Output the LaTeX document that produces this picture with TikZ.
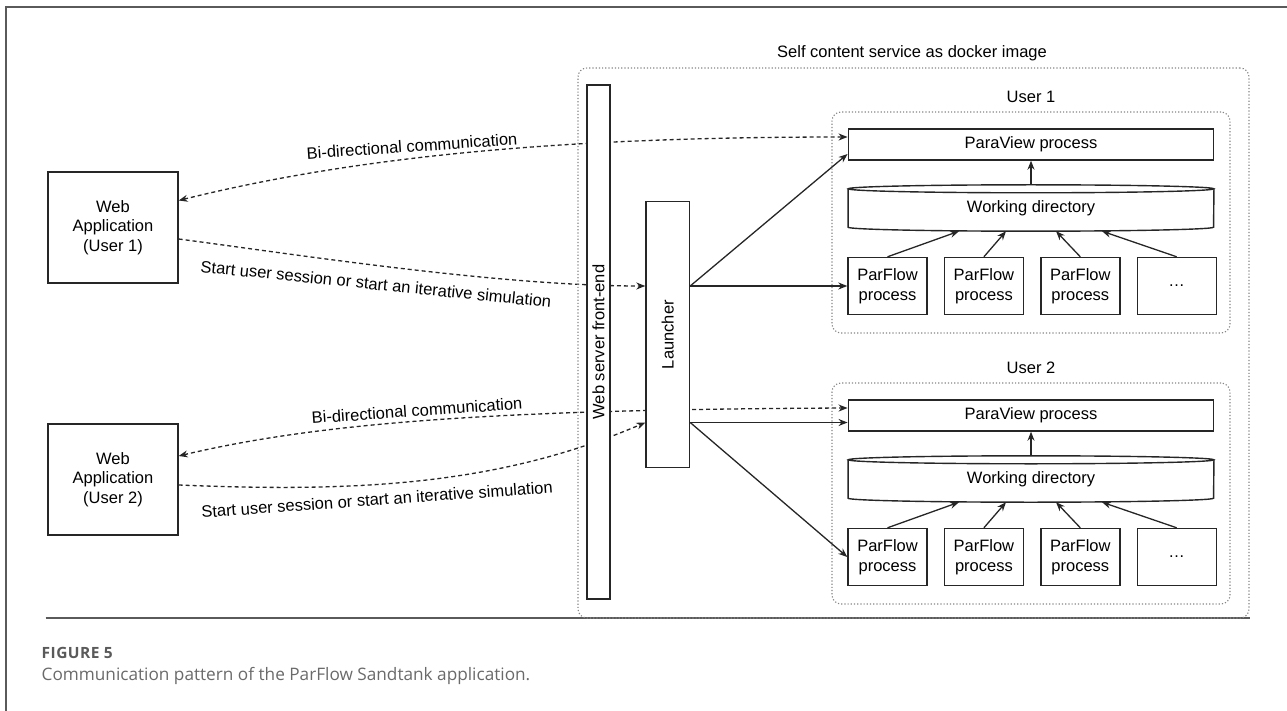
\documentclass[tikz,border=0pt]{standalone}
\usepackage{fontspec}
\setmainfont{Liberation Sans}
\newfontfamily\capfont{Open Sans}
\usepackage{xcolor}
\usepackage{tikz}
\usetikzlibrary{arrows.meta,positioning,backgrounds}
\definecolor{ink}{HTML}{262626}
\definecolor{dotgray}{HTML}{858585}
\definecolor{framegray}{HTML}{5A5A5A}
\definecolor{capgray}{HTML}{6A6A6A}
\newcommand{\diagfont}{\fontsize{16.5}{19.5}\selectfont}
\tikzset{
  box/.style={draw=ink,fill=white,line width=1.4pt,inner sep=2pt,
              align=center,font=\diagfont},
  group/.style={draw=dotgray,line width=1.1pt,dash pattern=on 1.2pt off 2pt,
                rounded corners=9pt},
  plain/.style={font=\diagfont,inner sep=1pt},
  dasharrow/.style={-{Stealth[length=9pt,width=7pt]},line width=1.3pt,ink,
                    dash pattern=on 4pt off 3pt},
  bidir/.style={{Stealth[length=9pt,width=7pt]}-{Stealth[length=9pt,width=7pt]},
                line width=1.3pt,ink,dash pattern=on 4pt off 3pt},
  solidarrow/.style={-{Stealth[length=9pt,width=7pt]},line width=1.3pt,ink},
}
\begin{document}
\begin{tikzpicture}[x=1pt,y=-1pt]
  \useasboundingbox (0,0) rectangle (1287,711);
  % page frame and rule
  \draw[framegray,line width=1.6pt] (6,711) -- (6,7) -- (1287,7);
  \draw[framegray,line width=1.4pt] (45.5,618) -- (1250,618);

  \node[group,minimum width=671pt,minimum height=550pt] (docker) at (913.5,343) {};
  \node[plain] (dockertitle) at (912,53) {Self content service as docker image};

  \node[box,minimum width=130pt,minimum height=111pt] (app1) at (113,227.5)
    {Web\\Application\\(User 1)};
  \node[box,minimum width=130pt,minimum height=111pt] (app2) at (113,479.5)
    {Web\\Application\\(User 2)};
  \node[box,minimum width=23pt,minimum height=514pt] (web) at (598.5,342)
    {\rotatebox{90}{Web server front-end}};
  \node[box,minimum width=43.5pt,minimum height=266pt] (launch) at (667.75,334.6)
    {\rotatebox{90}{Launcher}};

  % one block per user session
  \foreach \u/\dy in {1/0,2/271}{
    \node[plain] (user\u) at (1031,97+\dy) {User \u};
    \node[group,minimum width=398pt,minimum height=221pt] (grp\u) at (1031,222.5+\dy) {};
    \node[box,minimum width=365.5pt,minimum height=31pt] (pv\u) at (1031,144.5+\dy)
      {ParaView process};
    \node[font=\diagfont,minimum width=365.5pt,minimum height=46pt,inner sep=0pt]
      (wd\u) at (1031,208+\dy) {\raisebox{-2pt}{Working directory}};
    \draw[ink,line width=1.4pt]
      ([yshift=-4pt]wd\u.north west) -- ([yshift=4pt]wd\u.south west)
      arc[start angle=180,end angle=360,x radius=182.75pt,y radius=4pt]
      -- ([yshift=-4pt]wd\u.north east);
    \draw[ink,line width=1.4pt] ([yshift=-4pt]wd\u.north)
      ellipse[x radius=182.75pt,y radius=4pt];
    \node[box,minimum width=79pt,minimum height=57pt] (pfa\u) at (887.5,286+\dy)
      {ParFlow\\process};
    \node[box,minimum width=79pt,minimum height=57pt,right=16pt of pfa\u] (pfb\u)
      {ParFlow\\process};
    \node[box,minimum width=79pt,minimum height=57pt,right=16pt of pfb\u] (pfc\u)
      {ParFlow\\process};
    \node[box,minimum width=79pt,minimum height=57pt,right=16pt of pfc\u] (pfd\u)
      {\ldots};
    \draw[solidarrow] (wd\u.north) -- (pv\u.south);
    \draw[solidarrow] (pfa\u.north) -- ([xshift=-72pt]wd\u.south);
    \draw[solidarrow] (pfb\u.north) -- ([xshift=-25pt]wd\u.south);
    \draw[solidarrow] (pfc\u.north) -- ([xshift=25pt]wd\u.south);
    \draw[solidarrow] (pfd\u.north) -- ([xshift=71pt]wd\u.south);
  }

  \coordinate (pvin2) at ([yshift=-7pt]pv2.west);
  \draw[solidarrow] (launch.east |- pfa1.west) -- ([yshift=-9.5pt]pv1.west);
  \draw[solidarrow] (launch.east |- pfa1.west) -- (pfa1.west);
  \draw[solidarrow] (launch.east |- pvin2) -- (pvin2);
  \draw[solidarrow] (launch.east |- pvin2) -- (pfa2.west);

  \begin{scope}[on background layer]
    \draw[bidir] ([yshift=27pt]app1.east) .. controls +(201,-50) and +(-246,0)
      .. ([yshift=7.5pt]pv1.west);
    \draw[dasharrow] ([yshift=-11.5pt]app1.east) .. controls +(121,16) and +(-146,0)
      .. (launch.west |- pfa1.west);
    \draw[bidir] ([yshift=23.5pt]app2.east) .. controls +(151,-36) and +(-326,1.5)
      .. ([yshift=7.5pt]pv2.west);
    \draw[dasharrow] ([yshift=-5.5pt]app2.east) .. controls +(171,7) and +(-150,64.5)
      .. (launch.west |- pvin2);
  \end{scope}

  \node[plain,rotate=4] (bdlbl1) at (412,146) {Bi-directional communication};
  \node[plain,rotate=-5.8] (sslbl1) at (376,284)
    {Start user session or start an iterative simulation};
  \node[plain,rotate=4] (bdlbl2) at (417,410.5) {Bi-directional communication};
  \node[plain,rotate=4.1] (sslbl2) at (377,499.5)
    {Start user session or start an iterative simulation};

  \node[anchor=base west,inner sep=0pt,text=framegray,
        font=\capfont\bfseries\fontsize{15.5}{18}\selectfont\addfontfeatures{LetterSpace=3}]
    (fignum) at (41.5,658) {FIGURE 5};
  \node[anchor=base west,inner sep=0pt,text=capgray,
        font=\capfont\fontsize{17.2}{20}\selectfont] (figcap) at (41.5,680)
    {Communication pattern of the ParFlow Sandtank application.};
\end{tikzpicture}
\end{document}
